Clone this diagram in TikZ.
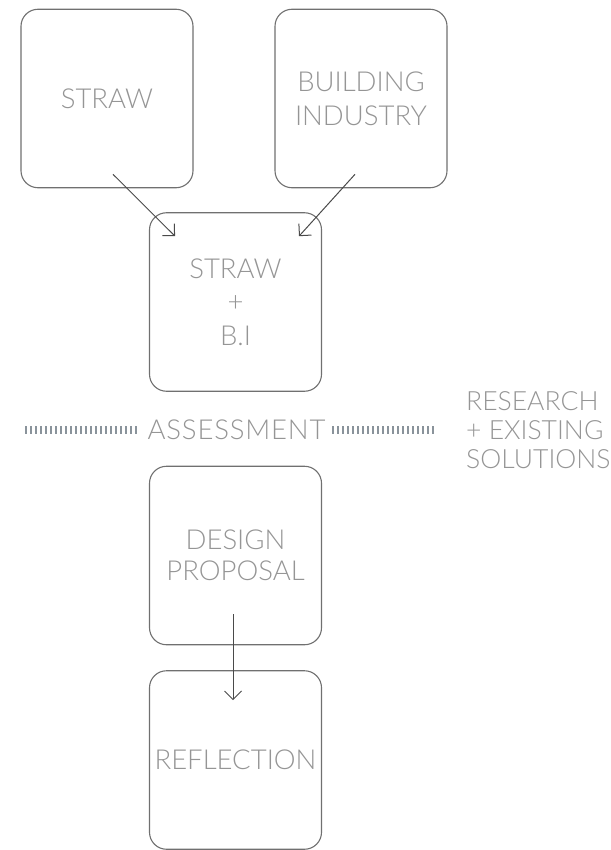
\documentclass[tikz,border=0pt]{standalone}
\usepackage{fontspec}
\setmainfont{Lato Light}
\usetikzlibrary{arrows.meta}
\definecolor{txtgrey}{HTML}{959595}
\definecolor{boxgrey}{HTML}{707070}
\definecolor{arrgrey}{HTML}{4A4A4A}
\definecolor{tickgrey}{HTML}{8A939B}
\begin{document}
\begin{tikzpicture}[x=1pt,y=-1pt,
  card/.style={draw=boxgrey, line width=1.1pt, rounded corners=17pt,
    minimum width=172pt, minimum height=178.5pt, inner sep=0pt,
    align=center, text=txtgrey, font=\fontsize{27.5}{34}\selectfont},
  flow/.style={draw=arrgrey, line width=1pt,
    -{Straight Barb[length=8.5pt,width=17pt,line width=1pt]}},
  label/.style={text=txtgrey, inner sep=0pt, font=\fontsize{26.5}{29}\selectfont},
  ticks/.style={draw=tickgrey, line width=8pt, dash pattern=on 2pt off 3pt}]
\useasboundingbox (0,0) rectangle (610,850);
\node[card] (straw) at (107,98.5) {STRAW};
\node[card] (bi) at (361,98.5) {BUILDING\\INDUSTRY};
\node[card, font=\fontsize{27.5}{33.5}\selectfont] (sbi) at (235.5,302) {STRAW\\+\\B.I};
\node[card, font=\fontsize{27.5}{30.5}\selectfont] (design) at (235.5,555.5) {DESIGN\\PROPOSAL};
\node[card] (refl) at (235.5,760) {REFLECTION};
\node[label, font=\fontsize{27.5}{29}\selectfont\addfontfeature{LetterSpace=3}] (assess) at (236.5,430) {ASSESSMENT};
\node[label, anchor=west, align=left] (research) at (466,430) {RESEARCH\\+ EXISTING\\SOLUTIONS};
\coordinate (t1a) at (25,430);
\coordinate (t1b) at (137,430);
\coordinate (t2a) at (332,430);
\coordinate (t2b) at (434,430);
\draw[ticks] (t1a) -- (t1b);
\draw[ticks] (t2a) -- (t2b);
\draw[flow] ([shift={(6,-14)}]straw.south) -- ([shift={(-60.5,24)}]sbi.north);
\draw[flow] ([shift={(-6,-14)}]bi.south) -- ([shift={(63.5,24)}]sbi.north);
\draw[flow] ([shift={(-2.5,-31)}]design.south) -- ([shift={(-2.5,30)}]refl.north);
\end{tikzpicture}
\end{document}
